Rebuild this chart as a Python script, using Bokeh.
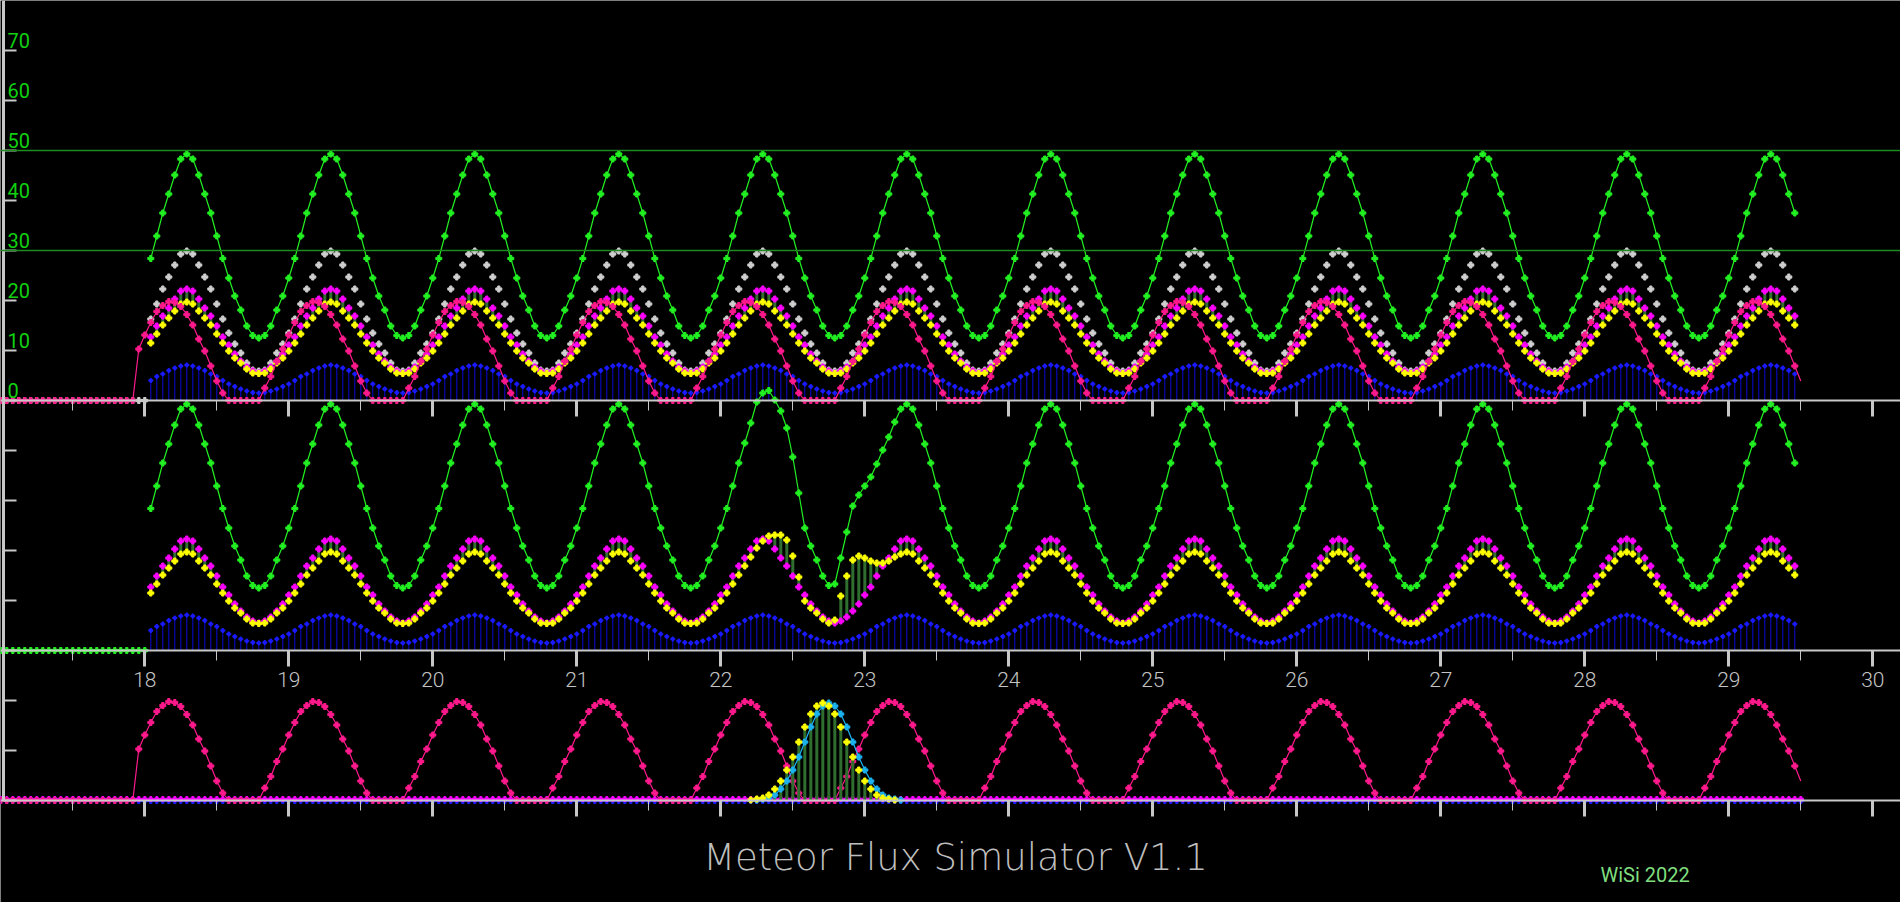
from bokeh.plotting import figure
from bokeh.models import Range1d, LinearAxis, FixedTicker, Span, Label
from bokeh.embed import file_html
from bokeh.resources import INLINE

# ---------------- data ----------------
FIRST_DAY = 18
HOURS_PER_DAY = 24
LAST_HOUR = 275            # last hourly sample: day 29, 11 h
LEAD_HOURS = 24            # empty hours shown before day 18

# one day of each series, hour 0 .. 23 (the picture repeats it every day)
GREEN_DAY = [24.5, 28.4, 32.9, 37.5, 41.3, 45.1, 48.3, 49.3, 48.3, 45.1, 41.3, 37.5,
             32.9, 28.4, 24.5, 20.9, 18.1, 14.9, 13.0, 12.5, 13.0, 14.9, 18.1, 20.9]
GRAY_DAY = [13.5, 16.3, 19.3, 22.3, 24.7, 27.1, 29.3, 29.9, 29.3, 27.1, 24.7, 22.3,
            19.3, 16.3, 13.5, 11.3, 9.5, 7.5, 6.1, 5.9, 6.1, 7.5, 9.5, 11.3]
MAGENTA_DAY = [11.1, 12.7, 14.9, 16.9, 18.5, 20.3, 21.9, 22.3, 21.9, 20.3, 18.5, 16.9,
               14.9, 12.7, 11.1, 9.3, 7.9, 6.7, 5.9, 5.5, 5.9, 6.7, 7.9, 9.3]
YELLOW_DAY = [9.9, 11.5, 13.3, 15.1, 16.5, 17.9, 19.3, 19.7, 19.3, 17.9, 16.5, 15.1,
              13.3, 11.5, 9.9, 8.5, 7.5, 6.3, 5.5, 5.4, 5.5, 6.3, 7.5, 8.5]
BLUE_DAY = [3.3, 4.0, 4.8, 5.3, 6.0, 6.5, 6.9, 7.1, 6.9, 6.5, 6.0, 5.3,
            4.8, 4.0, 3.3, 2.8, 2.3, 1.9, 1.6, 1.5, 1.6, 1.9, 2.3, 2.8]
PINK_DAY = [13.1, 15.6, 17.8, 19.0, 19.8, 19.6, 18.8, 17.2, 15.1, 12.3, 9.9, 6.9,
            3.9, 1.5, 0.0, 0.0, 0.0, 0.0, 0.0, 0.0, 2.5, 4.8, 7.8, 10.3]
PINK_FIRST_HOUR = -1       # pink is 0 before this hour
PINK_LAST_HOUR = 276

# meteor shower event in the middle panel (hours 100 .. 125)
EVENT_FIRST_HOUR = 100
GREEN_EVENT = [41.5, 45.5, 49.7, 51.5, 52.0, 50.1, 47.9, 44.5, 38.7, 31.5, 24.5, 20.9, 18.1,
               14.9, 13.0, 13.3, 18.5, 23.7, 28.9, 31.1, 32.9, 34.7, 37.3, 40.1, 42.7, 45.7]
YELLOW_EVENT = [16.9, 18.7, 20.5, 21.9, 22.9, 23.1, 23.1, 22.1, 18.9, 14.7, 9.9, 8.5, 7.5,
                6.3, 5.5, 6.1, 10.9, 14.9, 18.1, 18.9, 18.5, 17.9, 17.5, 17.5, 17.9, 18.7]

# shower profile in the bottom panel (hours 101 .. 125), cyan copy one hour later
GAUSS_FIRST_HOUR = 101
GAUSS = [0.1, 0.3, 0.5, 1.1, 2.3, 3.9, 6.1, 8.7, 11.7, 14.7, 17.3, 18.9, 19.5,
         18.9, 17.3, 14.7, 11.7, 8.7, 6.1, 3.9, 2.3, 1.1, 0.5, 0.3, 0.1]
CYAN_LAG_HOURS = 1

DAY_TICKS = [18, 19, 20, 21, 22, 23, 24, 25, 26, 27, 28, 29, 30]
HALF_DAY_TICKS = [17.5, 18.5, 19.5, 20.5, 21.5, 22.5, 23.5, 24.5, 25.5, 26.5, 27.5, 28.5, 29.5]
TOP_Y_TICKS = [0, 10, 20, 30, 40, 50, 60, 70]
MID_Y_TICKS = [0, 10, 20, 30, 40]
BOT_Y_TICKS = [0, 10, 20]
TOP_LIMITS = [30, 50]

TITLE = "Meteor Flux Simulator V1.1"
CREDIT = "WiSi 2022"


def day_of(h):
    return FIRST_DAY + h / HOURS_PER_DAY


def repeat_days(profile, h_from, h_to):
    return [profile[h % HOURS_PER_DAY] for h in range(h_from, h_to + 1)]


hours = list(range(1, LAST_HOUR + 1))
days = [day_of(h) for h in hours]
green = repeat_days(GREEN_DAY, 1, LAST_HOUR)
gray = repeat_days(GRAY_DAY, 1, LAST_HOUR)
magenta = repeat_days(MAGENTA_DAY, 1, LAST_HOUR)
yellow = repeat_days(YELLOW_DAY, 1, LAST_HOUR)
blue = repeat_days(BLUE_DAY, 1, LAST_HOUR)

green_mid = list(green)
yellow_mid = list(yellow)
for i, h in enumerate(range(EVENT_FIRST_HOUR, EVENT_FIRST_HOUR + len(GREEN_EVENT))):
    green_mid[h - 1] = GREEN_EVENT[i]
    yellow_mid[h - 1] = YELLOW_EVENT[i]

pink_hours = list(range(-LEAD_HOURS, PINK_LAST_HOUR + 1))
pink_days = [day_of(h) for h in pink_hours]
pink = [0.0] * (PINK_FIRST_HOUR + LEAD_HOURS) + repeat_days(PINK_DAY, PINK_FIRST_HOUR, PINK_LAST_HOUR)

lead_days = [day_of(h) for h in range(-LEAD_HOURS, 1)]
lead_zero = [0.0] * len(lead_days)
zero_days = [day_of(h) for h in range(-LEAD_HOURS, PINK_LAST_HOUR + 1)]
zero_vals = [0.0] * len(zero_days)

gauss_days = [day_of(GAUSS_FIRST_HOUR + i) for i in range(len(GAUSS))]
cyan_days = [day_of(GAUSS_FIRST_HOUR + CYAN_LAG_HOURS + i) for i in range(len(GAUSS))]
gauss_zero = [0.0] * len(GAUSS)

# ---------------- layout ----------------
W, H = 1900, 902
PX_DAY = 144.0
PX_UNIT = 5.0
X_START = 18 - 144.3 / PX_DAY
X_END = X_START + W / PX_DAY
BASE_PX = 800                  # bottom panel baseline, px from canvas top
Y_TOP = BASE_PX / PX_UNIT
Y_BOTTOM = -(H - BASE_PX) / PX_UNIT
TOP_BASE = 80                  # top panel baseline in bottom-panel units
MID_BASE = 30
LABEL_LIFT = 2

BG = "black"
AXIS = "#c8c8c8"
C_GREEN = "#22f022"
C_GRAY = "#cfcfcf"
C_MAGENTA = "#ff00ff"
C_YELLOW = "#ffff00"
C_BAR = "#2f6e2f"
C_PINK = "#ff1a8c"
C_BLUE = "#0a0ad8"
C_BLUE_M = "#1c1cff"
C_CYAN = "#1cb2f0"
C_LIMIT = "#1f8c1f"
C_YLAB = "#10d010"
C_XLAB = "#c4c4c4"
C_TITLE = "#bebebe"
C_CREDIT = "#7ede7e"
FONT = "Roboto, sans-serif"
THIN = "DejaVu Sans Light, DejaVu Sans ExtraLight, Roboto Thin, sans-serif"

p = figure(width=W, height=H, output_backend="svg", toolbar_location=None, title=None,
           x_range=Range1d(X_START, X_END), y_range=Range1d(Y_BOTTOM, Y_TOP),
           x_axis_location=None, y_axis_location=None, min_border=0,
           background_fill_color=BG, border_fill_color=BG, outline_line_color=None)
p.grid.visible = False
p.extra_y_ranges = {
    "top": Range1d(Y_BOTTOM - TOP_BASE, Y_TOP - TOP_BASE),
    "mid": Range1d(Y_BOTTOM - MID_BASE, Y_TOP - MID_BASE),
    "bot": Range1d(Y_BOTTOM, Y_TOP),
    "lab": Range1d(Y_BOTTOM - TOP_BASE - LABEL_LIFT, Y_TOP - TOP_BASE - LABEL_LIFT),
}

# ---------------- axes ----------------
def x_axis(base, ticks, minor, out, width, line=True, labels=False):
    ax = LinearAxis(fixed_location=base,
                    ticker=FixedTicker(ticks=ticks, minor_ticks=minor),
                    axis_line_color=AXIS if line else None, axis_line_width=2,
                    major_tick_in=0, major_tick_out=out, major_tick_line_width=width,
                    major_tick_line_color=AXIS,
                    minor_tick_in=0, minor_tick_out=10, minor_tick_line_width=1,
                    minor_tick_line_color=AXIS)
    if labels:
        ax.major_label_text_color = C_XLAB
        ax.major_label_text_font = "Roboto Light, Roboto, sans-serif"
        ax.major_label_text_font_size = "21px"
        ax.major_label_standoff = 5
    return ax


for base in (TOP_BASE, 0):
    ax = x_axis(base, [], HALF_DAY_TICKS, 16, 3)
    p.add_layout(ax, "below")
    ax2 = LinearAxis(fixed_location=base, ticker=FixedTicker(ticks=[], minor_ticks=DAY_TICKS),
                     axis_line_color=None, minor_tick_in=0, minor_tick_out=16,
                     minor_tick_line_width=3, minor_tick_line_color=AXIS)
    p.add_layout(ax2, "below")
p.add_layout(x_axis(MID_BASE, DAY_TICKS, HALF_DAY_TICKS, 16, 3, labels=True), "below")

Y_AXIS_DAY = X_START + 3 / PX_DAY
for rng, ticks, line in (("bot", BOT_Y_TICKS, True), ("mid", MID_Y_TICKS, False),
                         ("top", TOP_Y_TICKS, False)):
    ay = LinearAxis(fixed_location=Y_AXIS_DAY, y_range_name=rng,
                    ticker=FixedTicker(ticks=[], minor_ticks=ticks),
                    axis_line_color=AXIS if line else None, axis_line_width=3,
                    minor_tick_in=0, minor_tick_out=13, minor_tick_line_width=2,
                    minor_tick_line_color=AXIS)
    if line:
        ay.bounds = (0, Y_TOP)
    p.add_layout(ay, "right")

ylab = LinearAxis(fixed_location=Y_AXIS_DAY, y_range_name="lab",
                  ticker=FixedTicker(ticks=TOP_Y_TICKS, minor_ticks=[]),
                  axis_line_color=None, major_tick_line_color=None,
                  major_tick_in=0, major_tick_out=0, minor_tick_out=0,
                  major_label_standoff=4, major_label_text_color=C_YLAB,
                  major_label_text_font=FONT, major_label_text_font_size="20px")
p.add_layout(ylab, "right")

for lim in TOP_LIMITS:
    p.add_layout(Span(location=lim, dimension="width", y_range_name="top",
                      line_color=C_LIMIT, line_width=1.5))

# ---------------- top panel ----------------
T = dict(y_range_name="top")
p.segment(days, [0] * len(days), days, blue, line_color=C_BLUE, line_width=1, **T)
p.scatter(days, blue, marker="plus", size=4, color=C_BLUE_M, **T)
p.scatter(lead_days, lead_zero, marker="plus", size=6, color=C_GRAY, **T)
p.scatter(days, gray, marker="plus", size=6, color=C_GRAY, **T)
p.segment(days, yellow, days, magenta, line_color=C_BAR, line_width=3, **T)
p.scatter(days, magenta, marker="plus", size=6, color=C_MAGENTA, **T)
p.scatter(days, yellow, marker="plus", size=6, color=C_YELLOW, **T)
p.line(pink_days, pink, line_color=C_PINK, line_width=1.2, **T)
p.scatter(pink_days[:-1], pink[:-1], marker="plus", size=6, color=C_PINK, **T)
p.line(days, green, line_color=C_GREEN, line_width=1.2, **T)
p.scatter(days, green, marker="plus", size=6, color=C_GREEN, **T)

# ---------------- middle panel ----------------
M = dict(y_range_name="mid")
p.segment(days, [0] * len(days), days, blue, line_color=C_BLUE, line_width=1, **M)
p.scatter(days, blue, marker="plus", size=4, color=C_BLUE_M, **M)
p.segment(days, yellow_mid, days, magenta, line_color=C_BAR, line_width=3, **M)
p.scatter(days, magenta, marker="plus", size=6, color=C_MAGENTA, **M)
p.scatter(days, yellow_mid, marker="plus", size=6, color=C_YELLOW, **M)
p.line(days, green_mid, line_color=C_GREEN, line_width=1.2, **M)
p.scatter(days, green_mid, marker="plus", size=6, color=C_GREEN, **M)
p.scatter(lead_days, lead_zero, marker="plus", size=6, color=C_GREEN, **M)

# ---------------- bottom panel ----------------
B = dict(y_range_name="bot")
p.scatter(zero_days, zero_vals, marker="plus", size=6, color=C_BLUE_M, **B)
p.scatter(zero_days, [v + 0.3 for v in zero_vals], marker="plus", size=5, color=C_MAGENTA, **B)
p.line(pink_days, pink, line_color=C_PINK, line_width=1.2, **B)
p.scatter(pink_days[:-1], pink[:-1], marker="plus", size=6, color=C_PINK, **B)
p.segment(gauss_days, gauss_zero, gauss_days, GAUSS, line_color=C_BAR, line_width=3, **B)
p.line(cyan_days, GAUSS, line_color=C_CYAN, line_width=1.2, **B)
p.scatter(cyan_days, GAUSS, marker="plus", size=6, color=C_CYAN, **B)
p.scatter(gauss_days, GAUSS, marker="plus", size=6, color=C_YELLOW, **B)

# ---------------- texts ----------------
p.add_layout(Label(x=X_START + 955 / PX_DAY, y=-(857 - BASE_PX) / PX_UNIT, text=TITLE,
                   text_align="center", text_baseline="middle", text_color=C_TITLE,
                   text_font=THIN, text_font_size="37px"))
p.add_layout(Label(x=X_START + 1600 / PX_DAY, y=-(874 - BASE_PX) / PX_UNIT, text=CREDIT,
                   text_align="left", text_baseline="middle", text_color=C_CREDIT,
                   text_font=FONT, text_font_size="20px"))

open("out.html", "w").write(file_html(p, INLINE))
